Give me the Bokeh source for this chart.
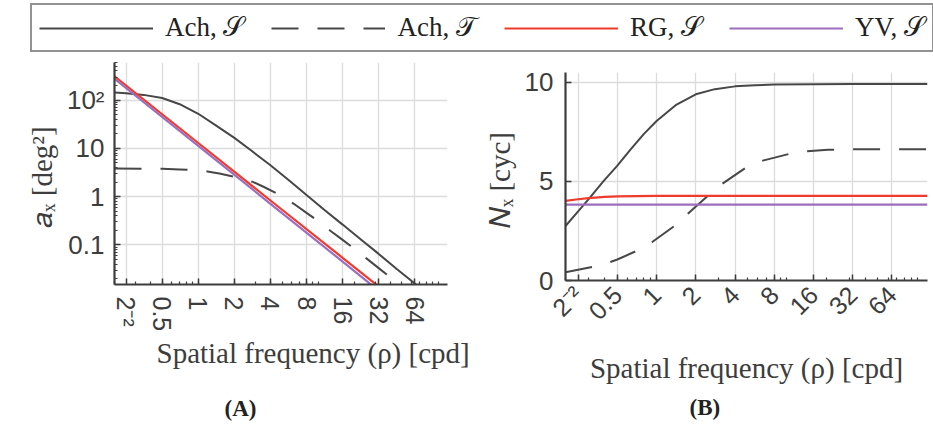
from bokeh.plotting import figure
from bokeh.models import FixedTicker, Range1d, Legend, LegendItem, Title
from bokeh.layouts import column, row
from bokeh.embed import file_html
from bokeh.resources import INLINE

# ---------------- data ----------------
rho_ticks = [0.25, 0.5, 1, 2, 4, 8, 16, 32, 64]
rho_tick_labels = ["2⁻²", "0.5", "1", "2", "4", "8", "16", "32", "64"]
rho_minor = [0.2, 0.3, 0.4, 0.5, 0.6, 0.7, 0.8, 0.9, 1, 2, 3, 4, 5, 6, 7, 8, 9, 10,
             20, 30, 40, 50, 60, 70, 80, 90, 100]

a_ticks = [0.1, 1, 10, 100]
a_tick_labels = ["0.1", "1", "10", "10²"]
a_minor = [k * 10.0 ** e for e in range(-2, 3) for k in range(1, 10)]

n_ticks = [0, 5, 10]
n_tick_labels = ["0", "5", "10"]

# (A) area a_x [deg^2]
rho_a_ach_s = [0.2, 0.25, 0.35, 0.5, 0.7, 1, 1.4, 2, 2.8, 4, 5.7, 8, 11.3, 16, 22.6, 32, 45, 64, 90, 120]
a_ach_s = [143, 138, 128, 110, 82, 52, 30, 16.5, 8.8, 4.45, 2.18, 1.08, 0.53, 0.263, 0.131,
           0.065, 0.032, 0.0158, 0.008, 0.0045]

rho_a_ach_t = [0.2, 0.35, 0.5, 0.7, 0.85, 1.19, 1.5, 2.05, 2.85, 3.5, 4.6, 6.26, 8, 9.67,
               12.8, 16, 19.6, 25.9, 32, 39.3, 50, 70]
a_ach_t = [3.8, 3.79, 3.76, 3.66, 3.56, 3.32, 3.0, 2.55, 2.02, 1.6, 1.14, 0.71, 0.46, 0.33,
           0.192, 0.127, 0.087, 0.050, 0.033, 0.022, 0.0136, 0.007]

rho_a_rg = [0.2, 1, 4, 16, 32]
a_rg = [310, 12.9, 0.83, 0.054, 0.0137]

rho_a_yv = [0.2, 1, 4, 16, 32]
a_yv = [275, 11.3, 0.71, 0.045, 0.0112]

# (B) number of cycles N_x [cyc]
rho_n_ach_s = [0.2, 0.25, 0.3, 0.39, 0.5, 0.63, 0.8, 1, 1.4, 2, 2.8, 4, 5.7, 8, 16, 32, 64, 120]
n_ach_s = [2.75, 3.49, 4.1, 5.0, 5.8, 6.61, 7.4, 8.05, 8.85, 9.4, 9.66, 9.8, 9.86, 9.89,
           9.91, 9.92, 9.92, 9.92]

rho_n_ach_t = [0.2, 0.328, 0.44, 0.5, 0.7, 0.92, 1.37, 1.73, 2.52, 3.17, 4.81, 6.53, 10.4,
               13.8, 20.7, 32, 64, 120]
n_ach_t = [0.42, 0.70, 0.93, 1.06, 1.49, 1.93, 2.75, 3.36, 4.32, 4.87, 5.68, 6.05, 6.39,
           6.52, 6.6, 6.62, 6.63, 6.63]

rho_n_rg = [0.2, 0.25, 0.3, 0.4, 0.5, 0.7, 1, 2, 4, 120]
n_rg = [4.02, 4.1, 4.16, 4.22, 4.25, 4.26, 4.27, 4.27, 4.27, 4.27]

rho_n_yv = [0.2, 1, 10, 120]
n_yv = [3.83, 3.83, 3.83, 3.83]

series_labels = ["Ach, 𝒮", "Ach, 𝒯", "RG, 𝒮", "YV, 𝒮"]
xlabel = "Spatial frequency (ρ) [cpd]"

# ---------------- style ----------------
GRAY = "#474747"
RED = "#ef3b2c"
PURPLE = "#9d6dbe"
AXIS = "#3d3d3d"
GRID = "#dcdcdc"
DASH = "27 19"
SANS = "Liberation Sans"
SERIF = "Liberation Serif"


def style_axes(p, x_orient):
    p.outline_line_color = None
    p.background_fill_color = "white"
    for ax in (p.xaxis[0], p.yaxis[0]):
        ax.axis_line_color = AXIS
        ax.axis_line_width = 2.2
        ax.major_tick_line_color = AXIS
        ax.minor_tick_line_color = AXIS
        ax.major_tick_line_width = 1.5
        ax.minor_tick_line_width = 1.2
        ax.major_tick_in = 6
        ax.major_tick_out = 0
        ax.minor_tick_in = 3
        ax.minor_tick_out = 0
        ax.major_label_text_font = SANS
        ax.major_label_text_color = AXIS
        ax.axis_label_text_font = SERIF
        ax.axis_label_text_font_style = "normal"
        ax.axis_label_text_color = AXIS
        ax.axis_label_text_font_size = "29px"
    p.xaxis.ticker = FixedTicker(ticks=rho_ticks, minor_ticks=rho_minor)
    p.xaxis.major_label_overrides = dict(zip(rho_ticks, rho_tick_labels))
    p.xaxis.major_label_orientation = x_orient
    p.xaxis.major_label_text_font_size = "25px"
    p.yaxis.major_label_text_font_size = "26px"
    p.xgrid.ticker = FixedTicker(ticks=rho_ticks)
    p.grid.grid_line_color = GRID
    p.grid.grid_line_width = 1.3


def below_text(text, offset, standoff, size="23px", style="bold", color="#222222"):
    # left-aligned title under the axis, shifted right by `offset` px from the frame edge
    return Title(text=text, align="left", offset=offset, standoff=standoff,
                 text_font=SERIF, text_font_size=size, text_font_style=style,
                 text_color=color, text_line_height=1.0)


# ---------------- legend strip ----------------
leg = figure(width=933, height=56, output_backend="svg", toolbar_location=None, title=None,
             x_range=Range1d(0, 1), y_range=Range1d(0, 1), frame_align=False,
             x_axis_location=None, y_axis_location=None, min_border=0)
leg.grid.visible = False
leg.outline_line_color = None
# single-point renderers outside the view: they only feed the legend swatches
lr = [
    leg.line([-1], [-1], line_color=GRAY, line_width=2.2),
    leg.line([-1], [-1], line_color=GRAY, line_width=2.2, line_dash=DASH),
    leg.line([-1], [-1], line_color=RED, line_width=2.2),
    leg.line([-1], [-1], line_color=PURPLE, line_width=2.2),
]
legend = Legend(
    items=[LegendItem(label=lab, renderers=[r]) for lab, r in zip(series_labels, lr)],
    orientation="horizontal", location=(30, 4), margin=0, padding=7,
    spacing=27, label_standoff=12, glyph_width=114, glyph_height=30, label_height=30,
    label_text_font=SERIF, label_text_font_size="27px", label_text_color="#222222",
    border_line_color="#262626", border_line_width=2, background_fill_alpha=1,
)
leg.add_layout(legend, "center")

# ---------------- (A) ----------------
pa = figure(width=480, height=372, output_backend="svg", toolbar_location=None, title=None,
            x_axis_type="log", y_axis_type="log", frame_align=False,
            x_range=Range1d(0.2, 120), y_range=Range1d(0.0151, 600),
            min_border_left=114, min_border_right=33, min_border_top=6, min_border_bottom=144)
style_axes(pa, "vertical")
pa.yaxis.axis_label = "𝑎ₓ  [deg²]"
pa.yaxis.ticker = FixedTicker(ticks=a_ticks, minor_ticks=a_minor)
pa.yaxis.major_label_overrides = dict(zip(a_ticks, a_tick_labels))
pa.ygrid.ticker = FixedTicker(ticks=a_ticks)
pa.xaxis.major_label_standoff = 12
pa.yaxis.major_label_standoff = 10
pa.yaxis.axis_label_standoff = 6

pa.line(rho_a_ach_s, a_ach_s, line_color=GRAY, line_width=2)
pa.line(rho_a_ach_t, a_ach_t, line_color=GRAY, line_width=2, line_dash=DASH)
pa.line(rho_a_rg, a_rg, line_color=RED, line_width=2.2)
pa.line(rho_a_yv, a_yv, line_color=PURPLE, line_width=2.2)

pa.add_layout(below_text(xlabel, 42, 0, size="29px", style="normal", color=AXIS), "below")
# caption sits one blank line below the x label
pa.add_layout(below_text("\n(A)", 110, 0), "below")

# ---------------- (B) ----------------
pb = figure(width=453, height=372, output_backend="svg", toolbar_location=None, title=None,
            x_axis_type="log", frame_align=False,
            x_range=Range1d(0.2, 120), y_range=Range1d(0, 10.5),
            min_border_left=79, min_border_right=6, min_border_top=16, min_border_bottom=148)
style_axes(pb, 0.785398)
pb.xaxis.axis_label = xlabel
pb.yaxis.axis_label = "𝑁ₓ  [cyc]"
pb.yaxis.ticker = FixedTicker(ticks=n_ticks)
pb.yaxis.major_label_overrides = dict(zip(n_ticks, n_tick_labels))
pb.ygrid.ticker = FixedTicker(ticks=n_ticks)
pb.xaxis.major_label_standoff = 10
pb.xaxis.axis_label_standoff = 14
pb.yaxis.major_label_standoff = 12
pb.yaxis.axis_label_standoff = 6

pb.line(rho_n_ach_s, n_ach_s, line_color=GRAY, line_width=2)
pb.line(rho_n_ach_t, n_ach_t, line_color=GRAY, line_width=2, line_dash=DASH)
pb.line(rho_n_rg, n_rg, line_color=RED, line_width=2.2)
pb.line(rho_n_yv, n_yv, line_color=PURPLE, line_width=2.2)

pb.add_layout(below_text("(B)", 124, 12), "below")

layout = column(leg, row(pa, pb))
open("out.html", "w").write(file_html(layout, INLINE))
